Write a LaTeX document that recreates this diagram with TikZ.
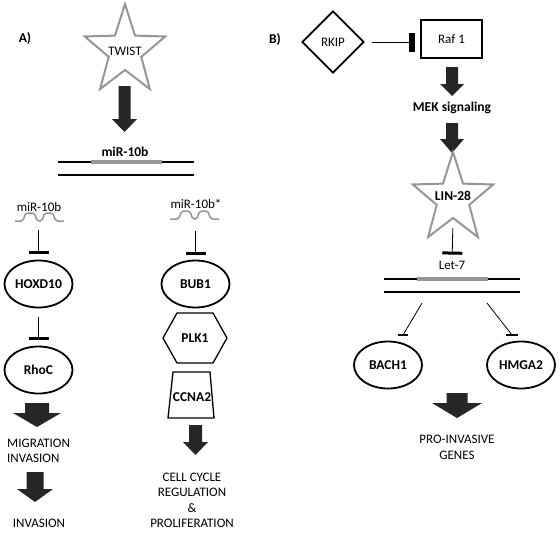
\documentclass[tikz,border=0pt]{standalone}
\usepackage{fontspec}
\setmainfont{Carlito}
\usetikzlibrary{shapes.geometric,arrows.meta}
\definecolor{stargray}{RGB}{150,150,150}
\definecolor{arrowfill}{RGB}{38,38,38}
\newcommand\blockarrow[6]{\fill[arrowfill] (#1-#4,#2) -- (#1+#4,#2) -- (#1+#4,#3-#6) -- (#1+#5,#3-#6) -- (#1,#3) -- (#1-#5,#3-#6) -- (#1-#4,#3-#6) -- cycle;}
\newcommand\starline[1]{\draw[starline, shift={(#1.center)}, xscale=0.9] (90:47pt) -- (126:19pt) -- (162:47pt) -- (198:19pt) -- (234:47pt) -- (270:19pt) -- (306:47pt) -- (342:19pt) -- (18:47pt) -- (54:19pt) -- cycle;}
\begin{document}
\begin{tikzpicture}[x=1pt,y=-1pt,
  font=\fontsize{13}{15.5}\selectfont,
  bold/.style={font=\fontsize{13.5}{15.5}\selectfont\bfseries},
  oval/.style={ellipse, draw, line width=1.8pt, minimum width=68pt, minimum height=47pt, inner sep=0pt, font=\fontsize{13.5}{15}\selectfont\bfseries},
  starline/.style={draw=stargray, line width=2pt, line join=miter},
  inh/.style={line width=0.8pt, -{Bar[width=20pt,line width=3pt]}},
  thinline/.style={line width=0.8pt},
  barline/.style={line width=2.5pt},
  dna/.style={line width=1.8pt},
  rna/.style={line width=3.5pt, stargray},
  wave/.style={stargray, line width=1.5pt, rounded corners=2pt},
  outline/.style={line width=1.3pt, line join=miter}]
\useasboundingbox (0,0) rectangle (560,536);
\fill[white] (0,0) rectangle (560,536);

% ---------------- Panel A ----------------
\node[bold] (labA) at (25,39) {A)};
\node[inner sep=0pt] (twist) at (125,51) {TWIST};
\starline{twist}
\blockarrow{124.5}{86}{132}{6}{12.5}{13}
\node[bold] (mir) at (125,152) {miR-10b};
\draw[dna] (58,162) -- (194,162);
\draw[rna] (91,162) -- (162,162);
\draw[dna] (58,175) -- (194,175);

% left column
\node (w1txt) at (39,207) {miR-10b};
\draw[wave] (15,221) -- (23,221) -- (25.5,213) -- (34.5,213) -- (37,221) -- (42,221) -- (44.5,213) -- (53,213) -- (55.5,221) -- (64,221);
\coordinate (w1) at (38.5,221);
\node[oval] (hoxd) at (38.5,284) {HOXD10};
\draw[inh, shorten <=9pt, shorten >=5.5pt] (w1) -- (hoxd);
\node[oval] (rhoc) at (38.5,370) {RhoC};
\draw[inh, shorten <=8.5pt, shorten >=6pt] (hoxd) -- (rhoc);
\blockarrow{37}{403}{427}{12}{24}{14}
\node[anchor=west, align=left, inner sep=0pt] (migr) at (7,451) {MIGRATION\\INVASION};
\blockarrow{35}{472}{502}{8.5}{18}{13}
\node (inv) at (39,523) {INVASION};

% right column
\node (w2txt) at (196,204) {miR-10b*};
\draw[wave] (170,219) -- (179,219) -- (181.5,211) -- (190,211) -- (192.5,219) -- (197,219) -- (199.5,211) -- (208,211) -- (210.5,219) -- (219,219);
\coordinate (w2) at (195.5,219);
\node[oval] (bub1) at (195.5,284) {BUB1};
\draw[inh, shorten <=12pt, shorten >=5pt] (w2) -- (bub1);
\node[bold] (plk1) at (195,338) {PLK1};
\draw[outline] (163,338) -- (177,313) -- (213,313) -- (227,338) -- (213,363) -- (177,363) -- cycle;
\node[bold] (ccna2) at (192,397) {CCNA2};
\draw[outline] (173,372) -- (210,372) -- (214,418) -- (168,418) -- cycle;
\blockarrow{195.5}{425}{455}{6.5}{12.5}{13}
\node[align=center] (cc) at (192,500.5) {CELL CYCLE\\REGULATION\\\&\\PROLIFERATION};

% ---------------- Panel B ----------------
\node[bold] (labB) at (275,40) {B)};
\node[diamond, draw, line width=1.8pt, minimum width=62pt, minimum height=62pt, inner sep=0pt] (rkip) at (333,42) {RKIP};
\node[draw, line width=1.8pt, minimum width=61pt, minimum height=38pt] (raf) at (451.5,39) {Raf 1};
\draw[line width=0.8pt, shorten <=7pt, shorten >=5pt, -{Rectangle[length=6.5pt,width=19pt]}] (rkip.east) -- (rkip.east -| raf.west);
\blockarrow{452}{67}{96}{6}{12}{12}
\node[bold] (mek) at (452,108) {MEK signaling};
\blockarrow{452}{123}{153}{6}{12}{14}
\node[bold, inner sep=0pt] (lin) at (453,196) {LIN-28};
\coordinate (linc) at (453,199);
\starline{linc}
\coordinate (linbot) at (453,218);
\node[inner sep=0pt] (let7) at (452,265) {Let-7};
\draw[inh, shorten <=10pt, shorten >=6pt] (linbot) -- (let7);
\draw[dna] (384,279) -- (520,279);
\draw[rna] (417,279) -- (488,279);
\draw[dna] (384,292) -- (520,292);
\node[oval] (bach1) at (388,365) {BACH1};
\node[oval] (hmga2) at (521,365) {HMGA2};
\coordinate (l7l) at (422,303);
\coordinate (l7r) at (487,303);
\coordinate (bb) at (403,335);
\coordinate (hb) at (512,335);
\draw[thinline] (l7l) -- (bb);
\draw[barline] ([xshift=-5pt]bb) -- ([xshift=5pt]bb);
\draw[thinline] (l7r) -- (hb);
\draw[barline] ([xshift=-6pt]hb) -- ([xshift=6pt]hb);
\blockarrow{457}{393}{418}{10.5}{25}{15}
\node[align=center] (pro) at (457,447.5) {PRO-INVASIVE\\GENES};
\end{tikzpicture}
\end{document}
